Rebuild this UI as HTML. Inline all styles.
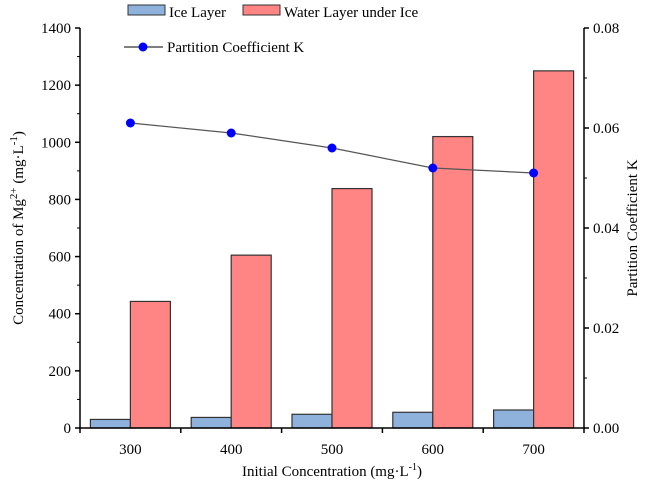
<!DOCTYPE html>
<html><head><meta charset="utf-8"><style>
body{margin:0;background:#fff}
svg{font-family:"Liberation Serif",serif;}
</style></head><body>
<svg id="c" width="645" height="488" xmlns="http://www.w3.org/2000/svg"></svg>
<script>
const categories=["300","400","500","600","700"];
const iceValues=[30,37,48,55,63];
const waterValues=[443,605,838,1020,1250];
const kValues=[0.061,0.059,0.056,0.052,0.051];
const leftTicks=[0,200,400,600,800,1000,1200,1400];
const rightTicks=[0,0.02,0.04,0.06,0.08];
const rightTickLabels=["0.00","0.02","0.04","0.06","0.08"];

const svg=document.getElementById('c');
const NS="http://www.w3.org/2000/svg";
const X0=80,X1=584,Y0=428,Y1=28;
const bw=(X1-X0)/categories.length;
const yL=v=>Y0-(v/1400)*(Y0-Y1);
const yR=v=>Y0-(v/0.08)*(Y0-Y1);
const xC=i=>X0+bw*(i+0.5);
function el(t,a,txt){const e=document.createElementNS(NS,t);for(const k in a)e.setAttribute(k,a[k]);if(txt!==undefined)e.textContent=txt;svg.appendChild(e);return e;}

categories.forEach((c,i)=>{
  const ice=el('rect',{x:xC(i)-40,y:yL(iceValues[i]),width:40,height:Y0-yL(iceValues[i]),fill:'#8eb2dc',stroke:'#333','stroke-width':1.2});
  
  
  const w=el('rect',{x:xC(i),y:yL(waterValues[i]),width:40,height:Y0-yL(waterValues[i]),fill:'#ff8585',stroke:'#333','stroke-width':1.2});
  
  
  const t=el('text',{x:xC(i),y:Y0+26,'text-anchor':'middle','font-size':15},c);
  
  
});
for(let i=0;i<=categories.length;i++){el('line',{x1:X0+bw*i,x2:X0+bw*i,y1:Y0,y2:Y0+5,stroke:'#000','stroke-width':1.5});}
const line=el('polyline',{points:kValues.map((v,i)=>xC(i)+','+yR(v)).join(' '),fill:'none',stroke:'#555','stroke-width':1.2});


kValues.forEach((v,i)=>{const p=el('circle',{cx:xC(i),cy:yR(v),r:4.5,fill:'#0000ff'});
  
  });

// axes
el('line',{x1:X0,x2:X0,y1:Y1,y2:Y0,stroke:'#000','stroke-width':1.5});
el('line',{x1:X1,x2:X1,y1:Y1,y2:Y0,stroke:'#000','stroke-width':1.5});
el('line',{x1:X0-1,x2:X1+1,y1:Y0,y2:Y0,stroke:'#000','stroke-width':1.5});
leftTicks.forEach(v=>{el('line',{x1:X0-5,x2:X0,y1:yL(v),y2:yL(v),stroke:'#000','stroke-width':1.5});
  if(v<1400)el('line',{x1:X0-3,x2:X0,y1:yL(v+100),y2:yL(v+100),stroke:'#000','stroke-width':1});
  const t=el('text',{x:X0-9,y:yL(v)+5,'text-anchor':'end','font-size':15},String(v));
  
  });
rightTicks.forEach((v,i)=>{el('line',{x1:X1,x2:X1+5,y1:yR(v),y2:yR(v),stroke:'#000','stroke-width':1.5});
  if(v<0.08)el('line',{x1:X1,x2:X1+3,y1:yR(v+0.01),y2:yR(v+0.01),stroke:'#000','stroke-width':1});
  const t=el('text',{x:X1+9,y:yR(v)+5,'font-size':15},rightTickLabels[i]);
  
  });
</script>
<svg width="645" height="488" style="position:absolute;left:0;top:0;font-family:'Liberation Serif',serif" xmlns="http://www.w3.org/2000/svg">
 <g>
  <rect x="128" y="5" width="37" height="10" fill="#8eb2dc" stroke="#333"/>
  <text x="169" y="17" font-size="15">Ice Layer</text>
  <rect x="243" y="5" width="37" height="10" fill="#ff8585" stroke="#333"/>
  <text x="284" y="17" font-size="15">Water Layer under Ice</text>
  <line x1="124" x2="163" y1="47" y2="47" stroke="#333" stroke-width="1.2"/>
  <circle cx="143" cy="47" r="4.5" fill="#0000ff"/>
  <text x="167" y="52" font-size="15">Partition Coefficient K</text>
 </g>
 <text x="332" y="476" text-anchor="middle" font-size="15">Initial Concentration  (mg·L<tspan dy="-6" font-size="10">-1</tspan><tspan dy="6">)</tspan></text>
 <text transform="translate(23,228) rotate(-90)" text-anchor="middle" font-size="15">Concentration of Mg<tspan dy="-6" font-size="11">2+</tspan><tspan dy="6"> (mg·L</tspan><tspan dy="-6" font-size="11">-1</tspan><tspan dy="6">)</tspan></text>
 <text transform="translate(637,228) rotate(-90)" text-anchor="middle" font-size="15">Partition Coefficient K</text>
</svg>
</body></html>
